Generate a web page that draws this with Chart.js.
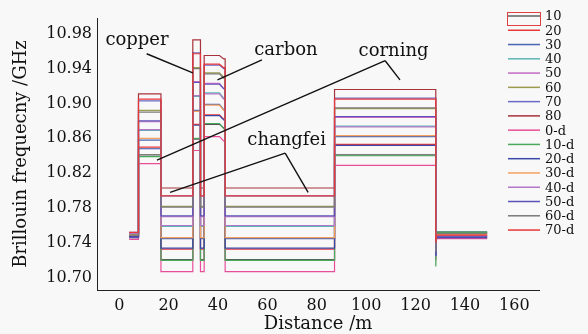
<!DOCTYPE html>
<html>
<head>
<meta charset="utf-8">
<script src="https://cdn.jsdelivr.net/npm/chart.js@4"></script>
<style>
  html, body { margin: 0; padding: 0; background: #f8f8f8; }
  #wrap { width: 588px; height: 334px; }
</style>
</head>
<body>
<div id="wrap"><canvas id="chart" width="588" height="334"></canvas></div>
<script>
// series: heating 10..80 and cooling 0-d..70-d
var seriesNames = ['10', '20', '30', '40', '50', '60', '70', '80',
                   '0-d', '10-d', '20-d', '30-d', '40-d', '50-d', '60-d', '70-d'];

// distance breakpoints (m) where the fibre sections change
var distance = [4, 7.8, 16.9, 29.8, 32.9, 34.4, 40.6, 42.3, 42.9, 87.2, 128.2, 128.5, 149];

// Brillouin frequency (GHz) of each series on each section
var baseStart = [10.750, 10.748, 10.747, 10.751, 10.749, 10.746, 10.752, 10.748,
                 10.744, 10.750, 10.747, 10.749, 10.751, 10.746, 10.749, 10.752];
var corningA  = [10.841, 10.850, 10.858, 10.869, 10.879, 10.892, 10.903, 10.911,
                 10.831, 10.839, 10.848, 10.860, 10.870, 10.880, 10.890, 10.905];
var changfei  = [10.721, 10.733, 10.745, 10.759, 10.770, 10.782, 10.794, 10.803,
                 10.707, 10.720, 10.734, 10.746, 10.760, 10.771, 10.781, 10.794];
var copper    = [10.859, 10.876, 10.892, 10.908, 10.925, 10.941, 10.958, 10.973,
                 10.846, 10.860, 10.875, 10.891, 10.909, 10.924, 10.940, 10.957];
var carbon    = [10.876, 10.887, 10.899, 10.912, 10.923, 10.935, 10.944, 10.955,
                 10.862, 10.877, 10.886, 10.898, 10.911, 10.922, 10.934, 10.945];
var carbonEnd = [10.872, 10.882, 10.893, 10.906, 10.917, 10.930, 10.940, 10.951,
                 10.857, 10.871, 10.881, 10.892, 10.905, 10.917, 10.929, 10.941];
var corningB  = [10.841, 10.853, 10.862, 10.874, 10.884, 10.894, 10.906, 10.916,
                 10.829, 10.840, 10.852, 10.863, 10.873, 10.885, 10.895, 10.905];
var dip       = [10.735, 10.740, 10.730, 10.735, 10.730, 10.735, 10.730, 10.740,
                 10.720, 10.713, 10.725, 10.730, 10.730, 10.725, 10.730, 10.740];
var baseEnd   = [10.749, 10.751, 10.746, 10.753, 10.748, 10.750, 10.747, 10.752,
                 10.745, 10.752, 10.746, 10.750, 10.748, 10.747, 10.751, 10.749];

var xTicks = [0, 20, 40, 60, 80, 100, 120, 140, 160];
var yTicks = [10.70, 10.74, 10.78, 10.82, 10.86, 10.90, 10.94, 10.98];

// annotation text and leader lines, in data units
var noteLabels = ['copper', 'carbon', 'corning', 'changfei'];
var noteX = [7.2, 67.5, 111.1, 67.8];
var noteY = [10.967, 10.956, 10.954, 10.852];
var leaders = [
  [11.1, 10.957, 29.8, 10.935],
  [57.8, 10.950, 39.8, 10.927],
  [107.7, 10.949, 15.3, 10.835],
  [107.7, 10.949, 113.7, 10.927],
  [67.2, 10.843, 20.6, 10.798],
  [67.2, 10.843, 76.5, 10.798]
];

var lineColors = ['#555555', '#e8363a', '#4a64b4', '#5bb5b5', '#c46ac4', '#9c9c4e', '#6a6ac8', '#a8323a',
                  '#e84e98', '#4aa85a', '#3848a8', '#f4a060', '#b476c8', '#5a52b8', '#7a7a7a', '#e8383a'];

function buildPoints(i) {
  var d = distance;
  return [
    {x: d[0], y: baseStart[i]}, {x: d[1], y: baseStart[i]},
    {x: d[1], y: corningA[i]}, {x: d[2], y: corningA[i]},
    {x: d[2], y: changfei[i]}, {x: d[3], y: changfei[i]},
    {x: d[3], y: copper[i]}, {x: d[4], y: copper[i]},
    {x: d[4], y: changfei[i]}, {x: d[5], y: changfei[i]},
    {x: d[5], y: carbon[i]}, {x: d[6], y: carbon[i]},
    {x: d[7], y: carbonEnd[i]}, {x: d[8], y: carbonEnd[i]},
    {x: d[8], y: changfei[i]}, {x: d[9], y: changfei[i]},
    {x: d[9], y: corningB[i]}, {x: d[10], y: corningB[i]},
    {x: d[10], y: dip[i]}, {x: d[11], y: baseEnd[i]},
    {x: d[12], y: baseEnd[i]}
  ];
}

var datasets = seriesNames.map(function(name, i) {
  return {
    label: name,
    data: buildPoints(i),
    borderColor: lineColors[i],
    backgroundColor: lineColors[i],
    borderWidth: 1.2,
    pointRadius: 0,
    showLine: true,
    fill: false,
    tension: 0,
    order: seriesNames.length - i
  };
});

var serif = '"DejaVu Serif", "Liberation Serif", serif';

// labels, leader lines, and the legend column on the right
var notesPlugin = {
  id: 'notes',
  beforeDraw: function(chart) {
    var ctx = chart.ctx;
    ctx.save();
    ctx.fillStyle = '#f8f8f8';
    ctx.fillRect(0, 0, chart.width, chart.height);
    ctx.restore();
  },
  afterDatasetsDraw: function(chart) {
    var ctx = chart.ctx;
    var xs = chart.scales.x, ys = chart.scales.y;
    ctx.save();
    ctx.strokeStyle = '#111';
    ctx.lineWidth = 1.4;
    leaders.forEach(function(s) {
      ctx.beginPath();
      ctx.moveTo(xs.getPixelForValue(s[0]), ys.getPixelForValue(s[1]));
      ctx.lineTo(xs.getPixelForValue(s[2]), ys.getPixelForValue(s[3]));
      ctx.stroke();
    });
    ctx.fillStyle = '#111';
    ctx.font = '18px ' + serif;
    ctx.textAlign = 'center';
    ctx.textBaseline = 'alphabetic';
    noteLabels.forEach(function(t, i) {
      ctx.fillText(t, xs.getPixelForValue(noteX[i]), ys.getPixelForValue(noteY[i]));
    });

    // legend
    var left = chart.width - 80, top = 16, step = 14.27;
    ctx.font = '13px ' + serif;
    ctx.textAlign = 'left';
    ctx.textBaseline = 'middle';
    seriesNames.forEach(function(name, i) {
      var y = top + i * step;
      ctx.strokeStyle = i === 0 ? '#888' : lineColors[i];
      ctx.lineWidth = i === 0 ? 2 : 1.5;
      ctx.beginPath();
      ctx.moveTo(left, y);
      ctx.lineTo(left + 32, y);
      ctx.stroke();
      ctx.fillText(name, left + 37, y + 1);
    });
    ctx.strokeStyle = '#e04040';
    ctx.lineWidth = 1;
    ctx.strokeRect(left - 0.5, top - 3.5, 33, 13);
    ctx.restore();
  }
};

var ctx = document.getElementById('chart').getContext('2d');
var chart = new Chart(ctx, {
  type: 'scatter',
  data: { datasets: datasets },
  options: {
    responsive: false,
    devicePixelRatio: 1,
    animation: false,
    layout: { padding: { top: 18, right: 49, bottom: 0, left: 0 } },
    plugins: {
      legend: { display: false },
      tooltip: { enabled: false }
    },
    scales: {
      x: {
        type: 'linear',
        min: -9,
        max: 170,
        afterBuildTicks: function(scale) {
          scale.ticks = xTicks.map(function(v) { return {value: v}; });
        },
        afterFit: function(scale) { scale.height = 44; },
        grid: { display: false, drawTicks: false },
        border: { display: true, color: '#222', width: 1 },
        ticks: {
          color: '#111',
          padding: 6,
          maxRotation: 0,
          font: { family: serif, size: 16 }
        },
        title: {
          display: true,
          text: 'Distance /m',
          color: '#111',
          padding: { top: 0, bottom: 1 },
          font: { family: serif, size: 18, lineHeight: 1 }
        }
      },
      y: {
        type: 'linear',
        min: 10.686,
        max: 10.998,
        afterBuildTicks: function(scale) {
          scale.ticks = yTicks.map(function(v) { return {value: v}; });
        },
        afterFit: function(scale) { scale.width = 97; },
        grid: { display: false, drawTicks: false },
        border: { display: true, color: '#222', width: 1 },
        ticks: {
          color: '#111',
          padding: 5,
          font: { family: serif, size: 16 },
          callback: function(v) { return Number(v).toFixed(2); }
        },
        title: {
          display: true,
          text: 'Brillouin frequecny /GHz',
          color: '#111',
          padding: { top: 12, bottom: 0 },
          font: { family: serif, size: 18, lineHeight: 1 }
        }
      }
    }
  },
  plugins: [notesPlugin]
});
</script>
</body>
</html>
